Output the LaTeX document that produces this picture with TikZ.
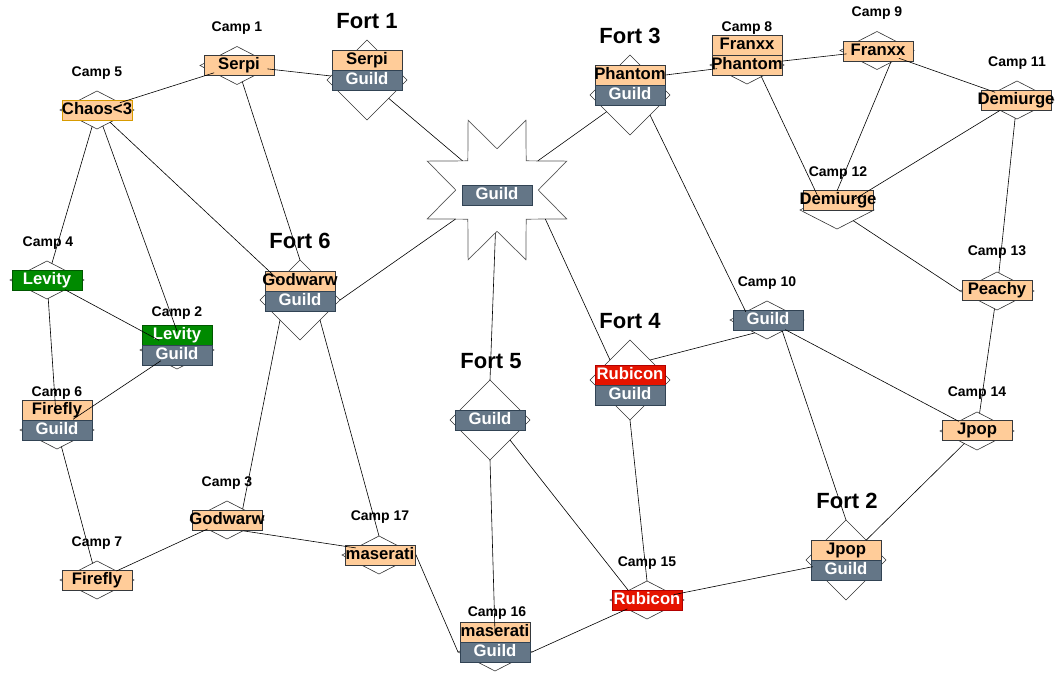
\documentclass[tikz,border=0pt]{standalone}
\usepackage{fontspec}
\setmainfont{Liberation Sans}
\usetikzlibrary{shapes.geometric}
\definecolor{orf}{HTML}{FFCC99}
\definecolor{orb}{HTML}{36393D}
\definecolor{orb2}{HTML}{D79B00}
\definecolor{slf}{HTML}{647687}
\definecolor{slb}{HTML}{314354}
\definecolor{grf}{HTML}{008A00}
\definecolor{grb}{HTML}{005700}
\definecolor{rdf}{HTML}{E51400}
\definecolor{rdb}{HTML}{B20000}
\newcommand\zw[1]{\makebox[0pt]{#1}}
\begin{document}
\begin{tikzpicture}[x=1pt,y=-1pt,
 dia/.style={diamond,draw=black!80,fill=white,line width=0.6pt,minimum width=74pt,minimum height=38pt,inner sep=0pt,outer sep=0pt},
 fdia/.style={dia,minimum width=80pt,minimum height=80pt},
 starshape/.style={star,star points=8,star point ratio=1.83,shape border rotate=22.5,minimum size=151pt,inner sep=0pt,outer sep=0pt,draw=black!65,fill=white,line width=0.7pt},
 bx/.style={rectangle,minimum width=70pt,minimum height=20pt,inner sep=0pt,line width=0.7pt,text height=12pt,text depth=3.5pt,font=\fontsize{16.7}{17}\selectfont\bfseries},
 ob/.style={bx,fill=orf,draw=orb,text=black},
 gb/.style={bx,fill=slf,draw=slb,text=white},
 vb/.style={gb,fill=grf,draw=grb},
 rb/.style={gb,fill=rdf,draw=rdb},
 cl/.style={font=\fontsize{14}{14}\selectfont\bfseries,inner sep=0pt,anchor=base},
 fl/.style={font=\fontsize{22}{22}\selectfont\bfseries,inner sep=0pt,anchor=base},
 ln/.style={draw=black,line width=0.6pt}
]
\fill[white] (0,0) rectangle (1064,673);
\useasboundingbox (0,0) rectangle (1064,673);

% diamonds
\node[dia] (c1) at (237,65.5) {};
\node[dia] (c5) at (97,110) {};
\node[fdia] (f1) at (367,80) {};
\node[dia] (c4) at (47,280) {};
\node[dia] (c2) at (177,350) {};
\node[dia] (c6) at (57,430) {};
\node[fdia] (f6) at (300,300) {};
\node[dia] (c3) at (227,520) {};
\node[dia] (c7) at (97,580) {};
\node[dia] (c17) at (379,555) {};
\node[dia] (c16) at (495,652) {};
\node[fdia] (f5) at (490,420) {};
\node[fdia] (f4) at (630,380) {};
\node[dia] (c15) at (647,600) {};
\node[fdia] (f2) at (846,560) {};
\node[dia] (c10) at (767,320) {};
\node[dia] (c14) at (977,431) {};
\node[dia] (c13) at (997,291) {};
\node[dia] (c12) at (837,210) {};
\node[dia] (c11) at (1017,100) {};
\node[dia] (c9) at (877,50.5) {};
\node[dia] (c8) at (747,65) {};
\node[fdia] (f3) at (630,95) {};
\node[starshape] (st) at (497,190) {};

% boxes
\node[ob] (c1b) at (239,65) {\zw{Serpi}};
\node[ob,draw=orb2] (c5b) at (97,110) {\zw{Chaos<3}};
\node[ob] (f1a) at (367,60) {\zw{Serpi}};
\node[gb] (f1b) at (367,80) {\zw{Guild}};
\node[vb] (c4b) at (47,280) {\zw{Levity}};
\node[vb] (c2a) at (177,335) {\zw{Levity}};
\node[gb] (c2b) at (177,355) {\zw{Guild}};
\node[ob] (c6a) at (57,410) {\zw{Firefly}};
\node[gb] (c6b) at (57,430) {\zw{Guild}};
\node[ob] (f6a) at (300,281) {\zw{Godwarw}};
\node[gb] (f6b) at (300,301) {\zw{Guild}};
\node[ob] (c3b) at (227,520) {\zw{Godwarw}};
\node[ob] (c7b) at (97,580) {\zw{Firefly}};
\node[ob] (c17b) at (380,555) {\zw{maserati}};
\node[ob] (c16a) at (495,632) {\zw{maserati}};
\node[gb] (c16b) at (495,652) {\zw{Guild}};
\node[gb] (f5b) at (490,420) {\zw{Guild}};
\node[gb] (stb) at (497,195) {\zw{Guild}};
\node[rb] (f4a) at (630,375) {\zw{Rubicon}};
\node[gb] (f4b) at (630,395) {\zw{Guild}};
\node[rb] (c15b) at (647,600) {\zw{Rubicon}};
\node[ob] (f2a) at (846,550) {\zw{Jpop}};
\node[gb] (f2b) at (846,570) {\zw{Guild}};
\node[gb] (c10b) at (768,320) {\zw{Guild}};
\node[ob] (c14b) at (977,430) {\zw{Jpop}};
\node[ob] (c13b) at (997,290) {\zw{Peachy}};
\node[ob] (c12b) at (838,200) {\zw{Demiurge}};
\node[ob] (c11b) at (1016,100) {\zw{Demiurge}};
\node[ob] (c9b) at (878,51) {\zw{Franxx}};
\node[ob] (c8a) at (747,45) {\zw{Franxx}};
\node[ob] (c8b) at (747,65) {\zw{Phantom}};
\node[ob] (f3a) at (630,75) {\zw{Phantom}};
\node[gb] (f3b) at (630,95) {\zw{Guild}};

% labels
\node[cl] (l1) at (237,31) {Camp 1};
\node[cl] (l5) at (97,76) {Camp 5};
\node[fl] (lf1) at (367,28) {Fort 1};
\node[cl] (l4) at (48,246) {Camp 4};
\node[cl] (l2) at (177,316) {Camp 2};
\node[cl] (l6) at (57,396) {Camp 6};
\node[fl] (lf6) at (300,248) {Fort 6};
\node[cl] (l3) at (227,486) {Camp 3};
\node[cl] (l7) at (97,546) {Camp 7};
\node[cl] (l17) at (380,520) {Camp 17};
\node[cl] (l16) at (497,616) {Camp 16};
\node[fl] (lf5) at (491,368) {Fort 5};
\node[fl] (lf4) at (630,328) {Fort 4};
\node[cl] (l15) at (647,566) {Camp 15};
\node[fl] (lf2) at (847,508) {Fort 2};
\node[cl] (l10) at (767,286) {Camp 10};
\node[cl] (l14) at (977,396) {Camp 14};
\node[cl] (l13) at (997,255) {Camp 13};
\node[cl] (l12) at (838,176) {Camp 12};
\node[cl] (l11) at (1017,66) {Camp 11};
\node[cl] (l9) at (877,16) {Camp 9};
\node[cl] (l8) at (747,31) {Camp 8};
\node[fl] (lf3) at (630,43) {Fort 3};

% connectors
\draw[ln] (c5) -- (c1);
\draw[ln] (c1) -- (f1);
\draw[ln] (c1) -- (f6.north);
\draw[ln] (c5) -- (c4);
\draw[ln] (c5) -- (c2.north);
\draw[ln] (c5) -- (f6);
\draw[ln] (f1) -- (st);
\draw[ln] (st) -- (f3);
\draw[ln] (st) -- (f6.east);
\draw[ln] (st) -- (f5.north);
\draw[ln] (st.-31) -- (f4.135);
\draw[ln] (f3a.east) -- (c8);
\draw[ln] (c8) -- (c9);
\draw[ln] (c9) -- (c11);
\draw[ln] (c9.-41) -- (c12.north);
\draw[ln] (c8.-39) -- (c12.150);
\draw[ln] (c11) -- (c12);
\draw[ln] (c11) -- (c13);
\draw[ln] (c12) -- (c13.west);
\draw[ln] (f3.-45) -- (c10.159);
\draw[ln] (c10.-133) -- (f4.45);
\draw[ln] (c10) -- (c14);
\draw[ln] (c10.-36) -- (f2.north);
\draw[ln] (c13) -- (c14);
\draw[ln] (c14) -- (f2);
\draw[ln] (f4.south) -- (c15.north);
\draw[ln] (f5.-45) -- (c15.153);
\draw[ln] (f5.south) -- (c16.north);
\draw[ln] (c15) -- (f2);
\draw[ln] (c15) -- (c16.east);
\draw[ln] (c17.east) -- (c16.west);
\draw[ln] (c3.-34) -- (c17.163);
\draw[ln] (c3) -- (c7);
\draw[ln] (c3.35) -- (f6.225);
\draw[ln] (f6.-45) -- (c17.north);
\draw[ln] (c4) -- (c6);
\draw[ln] (c4) -- (c2);
\draw[ln] (c2) -- (c6);
\draw[ln] (c6) -- (c7);
\end{tikzpicture}
\end{document}
